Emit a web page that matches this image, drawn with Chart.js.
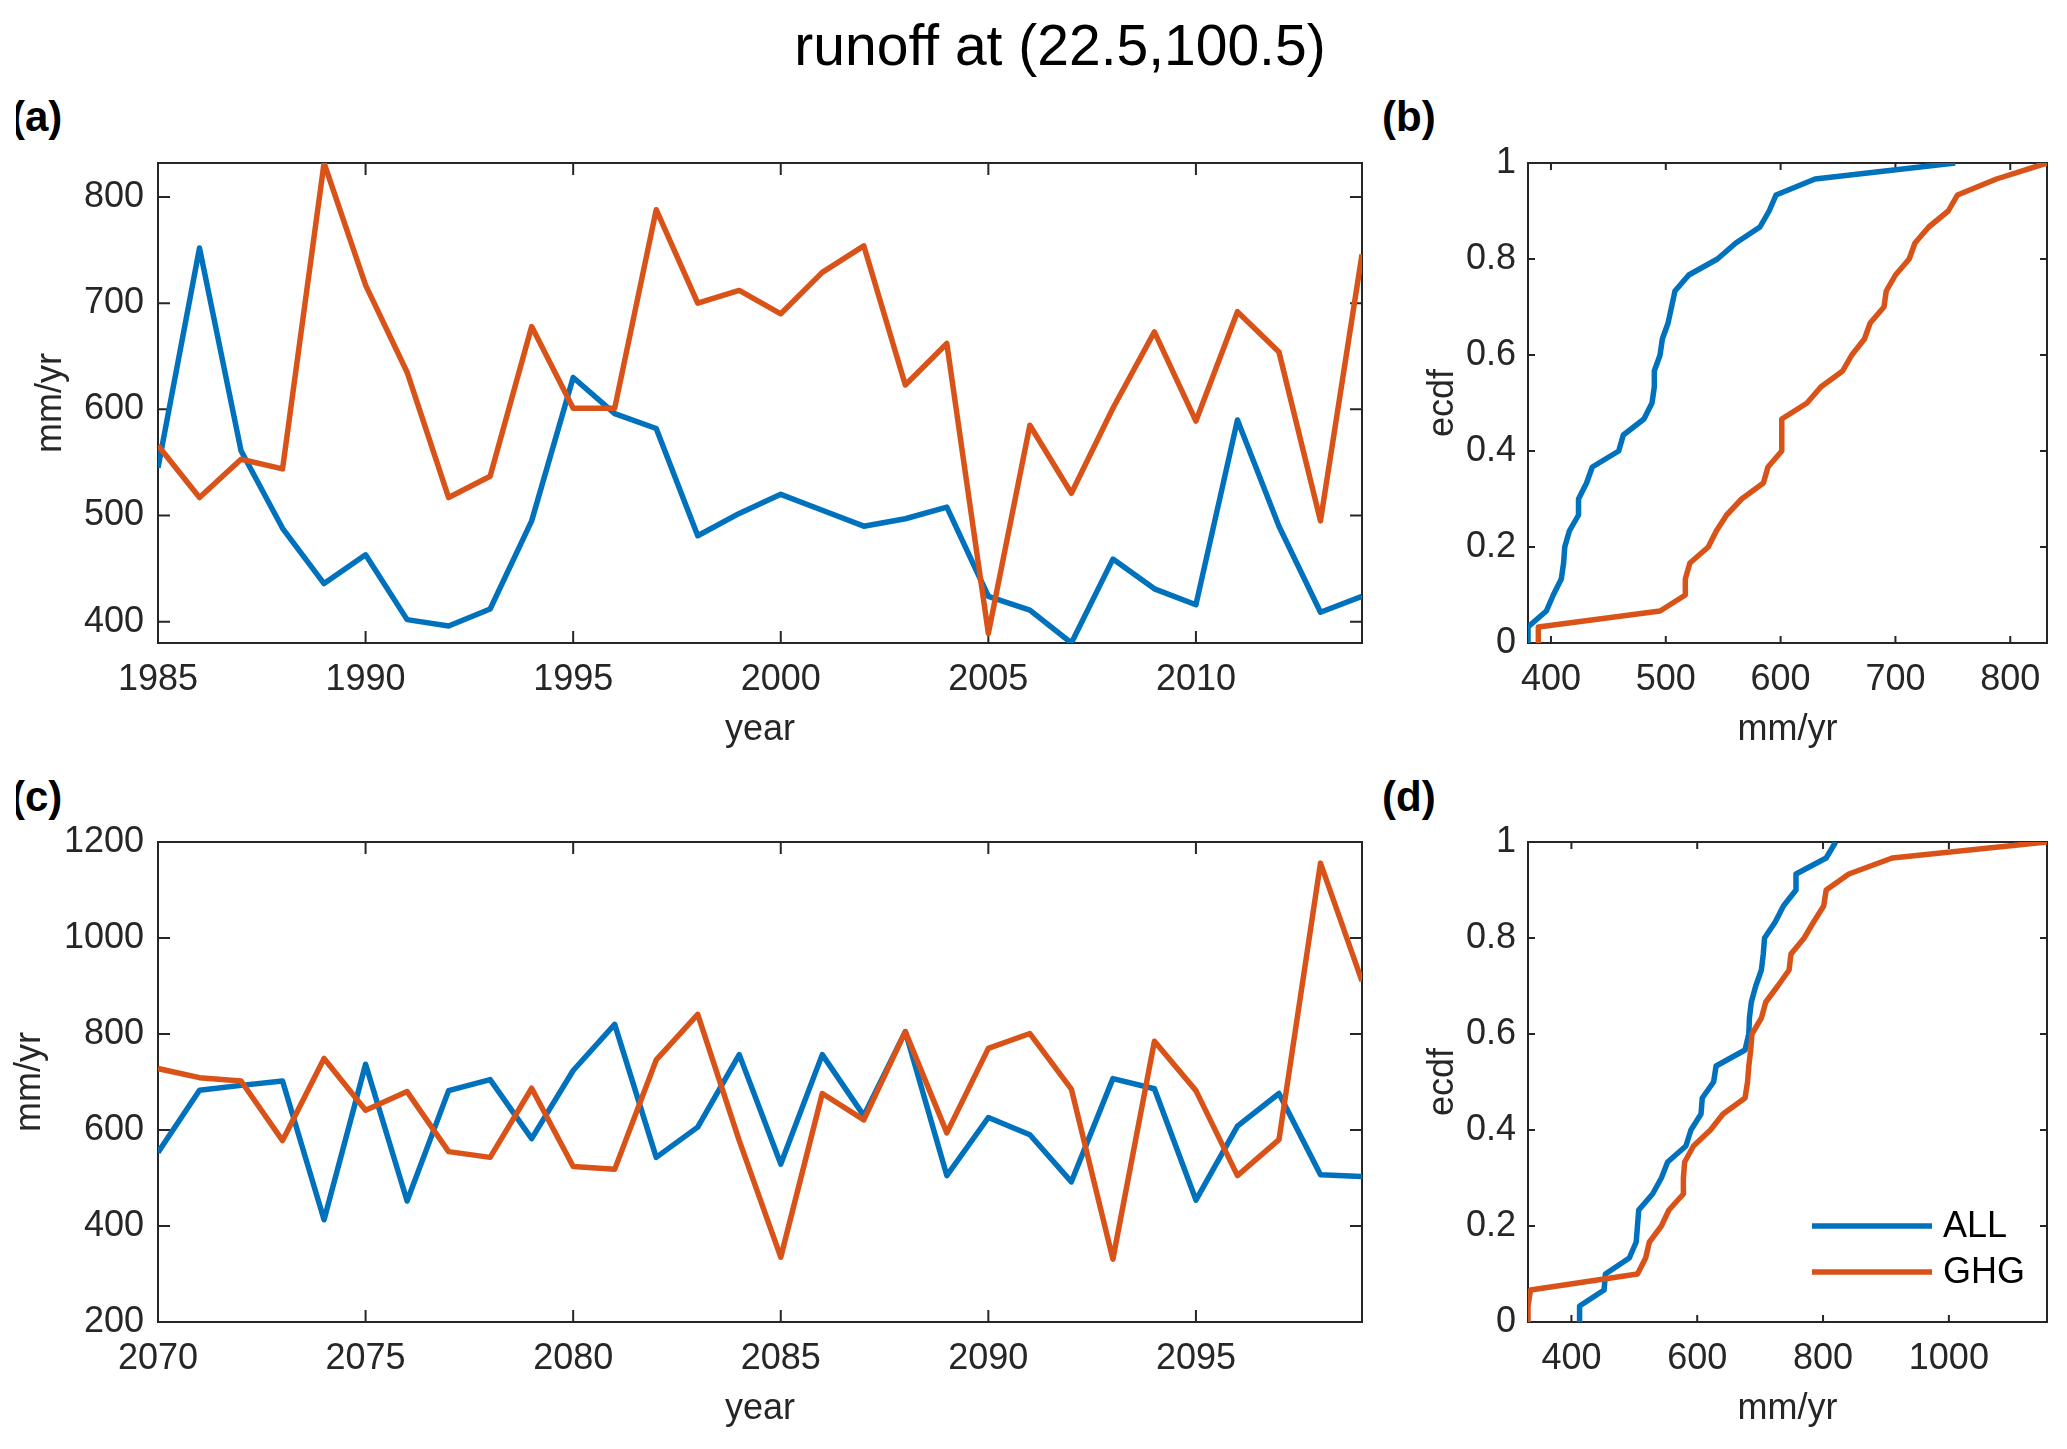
<!DOCTYPE html>
<html>
<head>
<meta charset="utf-8">
<script src="https://cdn.jsdelivr.net/npm/chart.js@4.4.1/dist/chart.umd.min.js"></script>
<style>
  html, body { margin: 0; padding: 0; background: #fff; }
  body { width: 2067px; height: 1449px; position: relative; overflow: hidden; font-family: "Liberation Sans", Arial, sans-serif; }
  canvas { position: absolute; }
  .lbl { position: absolute; font-weight: bold; font-size: 42px; line-height: 1; color: #000; white-space: nowrap; }
  .clip { position: absolute; overflow: hidden; width: 70px; height: 50px; }
  .clip .lbl { left: -5px; top: 0; }
  #suptitle { position: absolute; left: 0; top: 17px; width: 2120px; text-align: center; font-size: 57px; line-height: 1; color: #000; }
</style>
</head>
<body>
<div id="suptitle">runoff at (22.5,100.5)</div>
<div class="clip" style="left:16px; top:96px;"><div class="lbl">(a)</div></div>
<div class="lbl" style="left:1382px; top:96px;">(b)</div>
<div class="clip" style="left:16px; top:776px;"><div class="lbl">(c)</div></div>
<div class="lbl" style="left:1382px; top:776px;">(d)</div>

<script>
// historical period
const yearsA = [1985, 1986, 1987, 1988, 1989, 1990, 1991, 1992, 1993, 1994,
                1995, 1996, 1997, 1998, 1999, 2000, 2001, 2002, 2003, 2004,
                2005, 2006, 2007, 2008, 2009, 2010, 2011, 2012, 2013, 2014];
const allA = [545, 752, 561, 488, 436, 463, 402, 396, 412, 495,
              630, 596, 582, 481, 502, 520, 505, 490, 497, 508,
              424, 411, 380, 459, 431, 416, 590, 490, 409, 424];
const ghgA = [566, 517, 553, 544, 832, 717, 635, 517, 537, 678,
              601, 601, 788, 700, 712, 690, 729, 754, 623, 662,
              389, 585, 521, 601, 673, 589, 692, 654, 495, 746];

// future period
const yearsC = [2070, 2071, 2072, 2073, 2074, 2075, 2076, 2077, 2078, 2079,
                2080, 2081, 2082, 2083, 2084, 2085, 2086, 2087, 2088, 2089,
                2090, 2091, 2092, 2093, 2094, 2095, 2096, 2097, 2098, 2099];
const allC = [553, 683, 693, 702, 413, 737, 452, 682, 705, 582,
              724, 820, 543, 606, 757, 529, 757, 630, 805, 505,
              626, 590, 492, 707, 686, 454, 608, 676, 507, 503];
const ghgC = [728, 709, 702, 578, 749, 641, 680, 555, 543, 687,
              524, 518, 746, 841, 578, 335, 676, 621, 805, 594,
              770, 801, 685, 331, 785, 682, 505, 580, 1156, 910];

const seriesNames = ['ALL', 'GHG'];
const seriesColors = ['#0072BD', '#D95319'];

const yearTicksA = [1985, 1990, 1995, 2000, 2005, 2010];
const yearTicksC = [2070, 2075, 2080, 2085, 2090, 2095];
const runoffTicksA = [400, 500, 600, 700, 800];
const runoffTicksC = [200, 400, 600, 800, 1000, 1200];
const ecdfXTicksB = [400, 500, 600, 700, 800];
const ecdfXTicksD = [400, 600, 800, 1000];
const ecdfTicks = [0, 0.2, 0.4, 0.6, 0.8, 1];

Chart.defaults.font.family = '"Liberation Sans", Arial, sans-serif';
Chart.defaults.font.size = 36;
Chart.defaults.color = '#262626';

// matlab style box with inward ticks on all four sides
const matlabBox = {
    id: 'matlabBox',
    beforeDatasetsDraw(chart, args, opts) {
        const {ctx, chartArea: a, scales: {x, y}} = chart;
        const len = opts.tickLen || 12;
        ctx.save();
        ctx.strokeStyle = '#262626';
        ctx.lineWidth = 2;
        ctx.strokeRect(a.left, a.top, a.right - a.left, a.bottom - a.top);
        ctx.beginPath();
        x.ticks.forEach(t => {
            const px = x.getPixelForValue(t.value);
            ctx.moveTo(px, a.bottom); ctx.lineTo(px, a.bottom - len);
            ctx.moveTo(px, a.top); ctx.lineTo(px, a.top + len);
        });
        y.ticks.forEach(t => {
            const py = y.getPixelForValue(t.value);
            ctx.moveTo(a.left, py); ctx.lineTo(a.left + len, py);
            ctx.moveTo(a.right, py); ctx.lineTo(a.right - len, py);
        });
        ctx.stroke();
        ctx.restore();
    }
};

// legend inside the lower right corner, no box
const cornerLegend = {
    id: 'cornerLegend',
    afterDraw(chart, args, opts) {
        if (!opts.show) return;
        const {ctx, chartArea: a} = chart;
        ctx.save();
        ctx.font = '36px "Liberation Sans", Arial, sans-serif';
        ctx.textBaseline = 'middle';
        ctx.fillStyle = '#000';
        chart.data.datasets.forEach((ds, i) => {
            const yy = a.bottom - 96 + i * 46;
            ctx.strokeStyle = ds.borderColor;
            ctx.lineWidth = 5.5;
            ctx.beginPath();
            ctx.moveTo(a.left + 284, yy);
            ctx.lineTo(a.left + 404, yy);
            ctx.stroke();
            ctx.fillText(ds.label, a.left + 415, yy + 1);
        });
        ctx.restore();
    }
};

function ecdfPoints(values) {
    const sorted = [...values].sort((p, q) => p - q);
    const n = sorted.length;
    const pts = [{x: sorted[0], y: 0}];
    sorted.forEach((v, i) => pts.push({x: v, y: (i + 1) / n}));
    return pts;
}

// keep the plot box where we put it: no extra room for overhanging labels
function noOverhang(s) {
    s.paddingTop = 0;
    s.paddingBottom = 0;
    s.paddingLeft = 0;
    s.paddingRight = 0;
}

function makePanel(p) {
    const canvas = document.createElement('canvas');
    canvas.width = p.w;
    canvas.height = p.h;
    canvas.style.left = p.left + 'px';
    canvas.style.top = p.top + 'px';
    document.body.appendChild(canvas);

    return new Chart(canvas, {
        type: 'line',
        data: {
            datasets: p.series.map((pts, i) => ({
                label: seriesNames[i],
                data: pts,
                borderColor: seriesColors[i],
                backgroundColor: seriesColors[i],
                borderWidth: 5.5,
                pointRadius: 0,
                tension: 0,
                fill: false,
                borderJoinStyle: 'round',
                order: i === 0 ? 1 : 0
            }))
        },
        options: {
            responsive: false,
            animation: false,
            devicePixelRatio: 1,
            layout: { padding: { top: 20, right: 20, left: 0, bottom: 0 } },
            scales: {
                x: {
                    type: 'linear',
                    min: p.xMin,
                    max: p.xMax,
                    afterBuildTicks: s => { s.ticks = p.xTicks.map(v => ({value: v})); },
                    afterFit: s => { s.height = 125; noOverhang(s); },
                    grid: { display: false, drawTicks: false },
                    border: { display: false },
                    ticks: { padding: 15, autoSkip: false, maxRotation: 0, callback: v => String(v) },
                    title: { display: true, text: p.xTitle, padding: { top: 0, bottom: 16 } }
                },
                y: {
                    type: 'linear',
                    min: p.yMin,
                    max: p.yMax,
                    afterBuildTicks: s => { s.ticks = p.yTicks.map(v => ({value: v})); },
                    afterFit: s => { s.width = p.yWidth; noOverhang(s); },
                    grid: { display: false, drawTicks: false },
                    border: { display: false },
                    ticks: { padding: p.yPad, autoSkip: false, callback: v => String(v) },
                    title: { display: true, text: p.yTitle, padding: { top: p.yTitlePad, bottom: 0 } }
                }
            },
            plugins: {
                legend: { display: false },
                tooltip: { enabled: false },
                matlabBox: { tickLen: p.tickLen },
                cornerLegend: { show: !!p.legend }
            }
        },
        plugins: [matlabBox, cornerLegend]
    });
}

const toPoints = (xs, ys) => xs.map((x, i) => ({x: x, y: ys[i]}));

const histMin = Math.min(...allA, ...ghgA);
const histMax = Math.max(...allA, ...ghgA);
const futMin = Math.min(...allC, ...ghgC);
const futMax = Math.max(...allC, ...ghgC);

// (a)
makePanel({
    left: 0, top: 143, w: 1382, h: 625,
    series: [toPoints(yearsA, allA), toPoints(yearsA, ghgA)],
    xMin: yearsA[0], xMax: yearsA[yearsA.length - 1], xTicks: yearTicksA, xTitle: 'year',
    yMin: histMin, yMax: histMax, yTicks: runoffTicksA, yTitle: 'mm/yr',
    yWidth: 158, yPad: 14, yTitlePad: 29, tickLen: 12
});
// (b)
makePanel({
    left: 1378, top: 143, w: 689, h: 625,
    series: [ecdfPoints(allA), ecdfPoints(ghgA)],
    xMin: histMin, xMax: histMax, xTicks: ecdfXTicksB, xTitle: 'mm/yr',
    yMin: 0, yMax: 1, yTicks: ecdfTicks, yTitle: 'ecdf',
    yWidth: 150, yPad: 12, yTitlePad: 43, tickLen: 7
});
// (c)
makePanel({
    left: 0, top: 822, w: 1382, h: 625,
    series: [toPoints(yearsC, allC), toPoints(yearsC, ghgC)],
    xMin: yearsC[0], xMax: yearsC[yearsC.length - 1], xTicks: yearTicksC, xTitle: 'year',
    yMin: 200, yMax: 1200, yTicks: runoffTicksC, yTitle: 'mm/yr',
    yWidth: 158, yPad: 14, yTitlePad: 8, tickLen: 12
});
// (d)
makePanel({
    left: 1378, top: 822, w: 689, h: 625,
    series: [ecdfPoints(allC), ecdfPoints(ghgC)],
    xMin: futMin, xMax: futMax, xTicks: ecdfXTicksD, xTitle: 'mm/yr',
    yMin: 0, yMax: 1, yTicks: ecdfTicks, yTitle: 'ecdf',
    yWidth: 150, yPad: 12, yTitlePad: 43, tickLen: 7,
    legend: true
});
</script>
</body>
</html>
